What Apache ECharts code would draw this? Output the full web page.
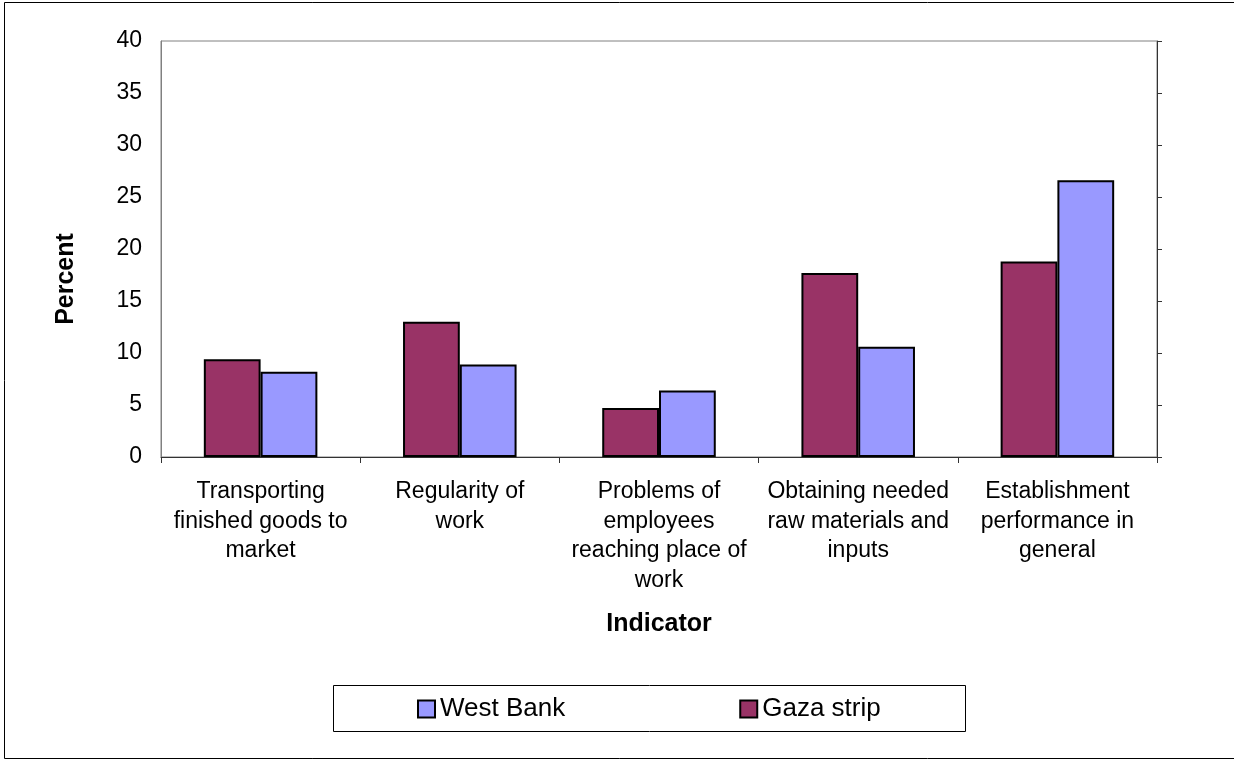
<!DOCTYPE html>
<html>
<head>
<meta charset="utf-8">
<script src="https://cdn.jsdelivr.net/npm/echarts@6/dist/echarts.min.js"></script>
<style>
  html, body { margin: 0; padding: 0; background: #fff; }
  #chart { width: 1234px; height: 760px; }
</style>
</head>
<body>
<div id="chart"></div>
<script>
const categories = [
  "Transporting\nfinished goods to\nmarket",
  "Regularity of\nwork",
  "Problems of\nemployees\nreaching place of\nwork",
  "Obtaining needed\nraw materials and\ninputs",
  "Establishment\nperformance in\ngeneral"
];
const gazaStrip = [9.4, 13.0, 4.7, 17.7, 18.8];
const westBank = [8.2, 8.9, 6.4, 10.6, 26.6];
const yTicks = { min: 0, max: 40, interval: 5 };
const legendOrder = ["West Bank", "Gaza strip"];
const yTitle = "Percent";
const xTitle = "Indicator";

const FONT = "'Liberation Sans', Arial, sans-serif";
const chart = echarts.init(document.getElementById('chart'), null, { renderer: 'canvas' });

chart.setOption({
  animation: false,
  backgroundColor: '#fff',
  textStyle: { fontFamily: FONT, color: '#000' },
  graphic: [
    { type: 'rect', shape: { x: 4.5, y: 2.5, width: 1240, height: 756 }, style: { fill: 'none', stroke: '#000', lineWidth: 1 }, silent: true, z: -1 },
    { type: 'rect', shape: { x: 333.5, y: 685.5, width: 632, height: 46 }, style: { fill: '#fff', stroke: '#000', lineWidth: 1 }, silent: true, z: -1 },
    {
      type: 'text', x: 66, y: 279, rotation: Math.PI / 2, silent: true,
      style: { text: yTitle, fontFamily: FONT, fontSize: 25, fontWeight: 'bold', fill: '#000', align: 'center', verticalAlign: 'middle' }
    }
  ],
  grid: {
    left: 161, right: 77, top: 41, bottom: 303,
    show: true, borderColor: '#808080', borderWidth: 1, backgroundColor: 'transparent'
  },
  legend: {
    data: legendOrder,
    left: 417, top: 696,
    padding: 0,
    itemWidth: 17, itemHeight: 17, itemGap: 174,
    icon: 'rect',
    textStyle: { fontFamily: FONT, fontSize: 26, color: '#000' },
    itemStyle: { borderColor: '#000', borderWidth: 2 }
  },
  xAxis: {
    type: 'category',
    data: categories,
    name: xTitle,
    nameLocation: 'middle',
    nameGap: 155,
    nameTextStyle: { fontFamily: FONT, fontSize: 25, fontWeight: 'bold', color: '#000' },
    axisLine: { lineStyle: { color: '#333', width: 1 } },
    axisTick: { show: true, length: 6, lineStyle: { color: '#333' } },
    axisLabel: { fontFamily: FONT, fontSize: 23, lineHeight: 29.5, color: '#000', margin: 20, interval: 0 },
    splitLine: { show: false }
  },
  yAxis: [
    {
      type: 'value',
      min: yTicks.min, max: yTicks.max, interval: yTicks.interval,
      axisLine: { show: true, lineStyle: { color: '#808080', width: 1 } },
      axisTick: { show: false },
      axisLabel: { fontFamily: FONT, fontSize: 23, color: '#000', margin: 19 },
      splitLine: { show: false }
    },
    {
      type: 'value',
      position: 'right',
      min: yTicks.min, max: yTicks.max, interval: yTicks.interval,
      axisLine: { show: true, lineStyle: { color: '#333', width: 1 } },
      axisTick: { show: true, inside: false, length: 5, lineStyle: { color: '#333' } },
      axisLabel: { show: false },
      splitLine: { show: false }
    }
  ],
  series: [
    {
      name: 'Gaza strip',
      type: 'bar',
      data: gazaStrip,
      barGap: '0%',
      barCategoryGap: '43%',
      itemStyle: { color: '#993366', borderColor: '#000', borderWidth: 2 }
    },
    {
      name: 'West Bank',
      type: 'bar',
      data: westBank,
      barGap: '0%',
      barCategoryGap: '43%',
      itemStyle: { color: '#9999FF', borderColor: '#000', borderWidth: 2 }
    }
  ]
});
</script>
</body>
</html>
